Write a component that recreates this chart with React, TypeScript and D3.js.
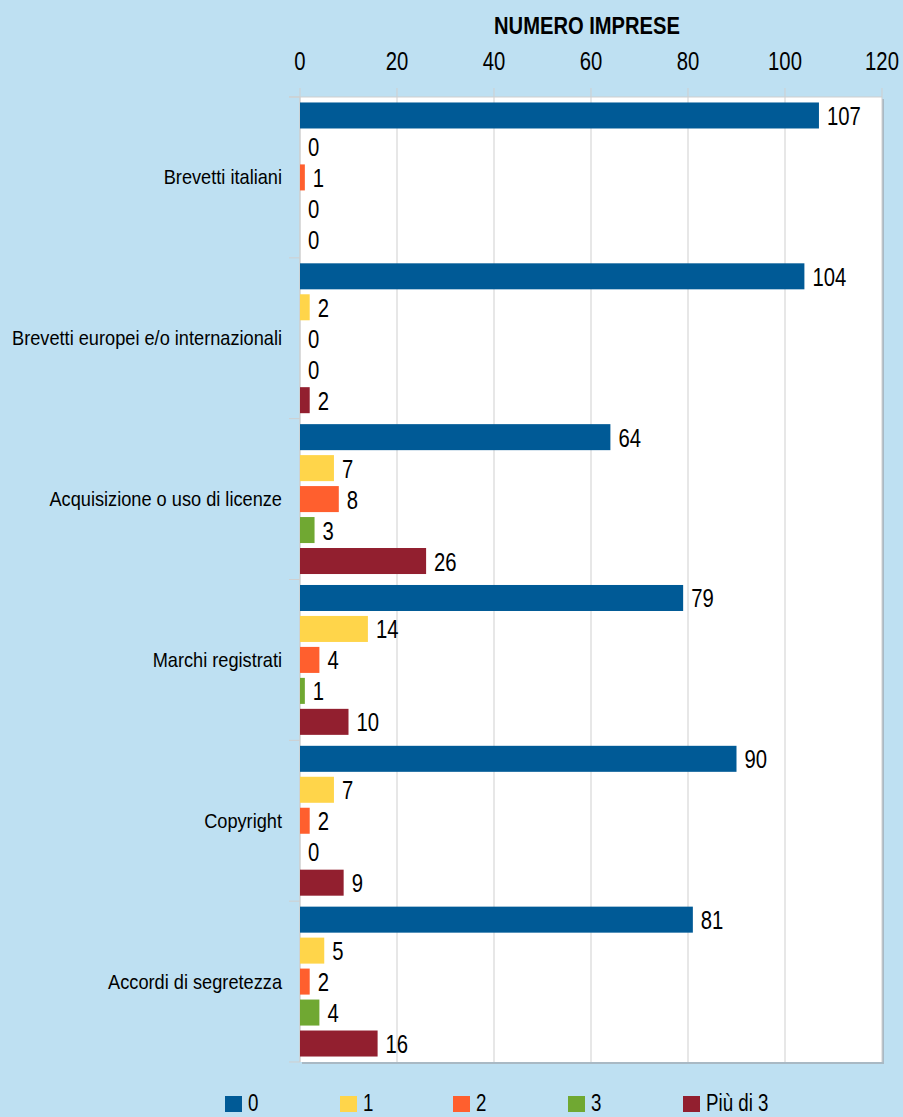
import React from "react";
import * as d3 from "d3";

const categories = [
  "Brevetti italiani",
  "Brevetti europei e/o internazionali",
  "Acquisizione o uso di licenze",
  "Marchi registrati",
  "Copyright",
  "Accordi di segretezza",
];
const seriesNames = ["0", "1", "2", "3", "Più di 3"];
const s0 = [107, 104, 64, 79, 90, 81];
const s1 = [0, 2, 7, 14, 7, 5];
const s2 = [1, 0, 8, 4, 2, 2];
const s3 = [0, 0, 3, 1, 0, 4];
const s4 = [0, 2, 26, 10, 9, 16];
const seriesValues = [s0, s1, s2, s3, s4];
const colors = ["#005A96", "#FFD54A", "#FF5F2E", "#70A832", "#921F2F"];
const xTicks = [0, 20, 40, 60, 80, 100, 120];

const W = 903;
const H = 1117;
const left = 300;
const right = 882;
const top = 97;
const bottom = 1062;
const FONT = "'Liberation Sans', Arial, sans-serif";

function T(props: {
  x: number;
  y: number;
  sx?: number;
  size: number;
  anchor?: string;
  weight?: string;
  children: React.ReactNode;
}) {
  const { x, y, sx = 0.78, size, anchor = "start", weight = "normal", children } = props;
  return (
    <text
      transform={`translate(${x},${y}) scale(${sx},1)`}
      textAnchor={anchor}
      fontSize={size}
      fontWeight={weight}
      fill="#000"
    >
      {children}
    </text>
  );
}

export default function App() {
  const x = d3.scaleLinear().domain([0, 120]).range([left, right]);
  const y0 = d3.scaleBand().domain(categories).range([top, bottom]).paddingInner(0).paddingOuter(0);
  const y1 = d3
    .scaleBand()
    .domain(seriesNames)
    .range([3, y0.bandwidth() - 3])
    .paddingInner(0.16)
    .paddingOuter(0.08);

  const legendX = [225, 340, 453, 568, 683];

  return (
    <svg
      width={W}
      height={H}
      style={{ position: "absolute", left: 0, top: 0, background: "#BEE0F2" }}
      fontFamily={FONT}
    >
      <rect x={0} y={0} width={W} height={H} fill="#BEE0F2" />
      <rect x={left + 2} y={top + 2} width={right - left} height={bottom - top} fill="#A9B9C4" />
      <rect x={left} y={top} width={right - left} height={bottom - top} fill="#FFFFFF" />
      {xTicks.map((t) => (
        <g key={t}>
          <line x1={x(t)} x2={x(t)} y1={top - 9} y2={bottom} stroke="#CFCFCF" strokeWidth={1} />
          <T x={x(t)} y={70} size={26} anchor="middle">
            {t}
          </T>
        </g>
      ))}
      <line x1={289} x2={right} y1={top} y2={top} stroke="#CFCFCF" />
      <line x1={left} x2={left} y1={top} y2={bottom} stroke="#CFCFCF" />
      {categories.map((c) => (
        <line key={c} x1={289} x2={left} y1={y0(c) as number} y2={y0(c) as number} stroke="#CFCFCF" />
      ))}
      <line x1={289} x2={left} y1={bottom} y2={bottom} stroke="#CFCFCF" />
      <T x={587} y={34} size={24} sx={0.84} anchor="middle" weight="bold">
        NUMERO IMPRESE
      </T>
      {categories.map((c, ci) => (
        <g key={c} transform={`translate(0,${y0(c)})`}>
          <T x={282} y={y0.bandwidth() / 2 + 7} size={20} sx={0.91} anchor="end">
            {c}
          </T>
          {seriesNames.map((s, si) => {
            const v = seriesValues[si][ci];
            const yy = y1(s) as number;
            return (
              <g key={s}>
                <rect x={x(0)} y={yy} width={x(v) - x(0)} height={y1.bandwidth()} fill={colors[si]} />
                <T x={x(v) + 8} y={yy + y1.bandwidth() / 2 + 9.5} size={26}>
                  {v}
                </T>
              </g>
            );
          })}
        </g>
      ))}
      {seriesNames.map((s, i) => (
        <g key={s}>
          <rect x={legendX[i]} y={1096} width={17} height={16} fill={colors[i]} />
          <T x={legendX[i] + 23} y={1111} size={24}>
            {s}
          </T>
        </g>
      ))}
    </svg>
  );
}
